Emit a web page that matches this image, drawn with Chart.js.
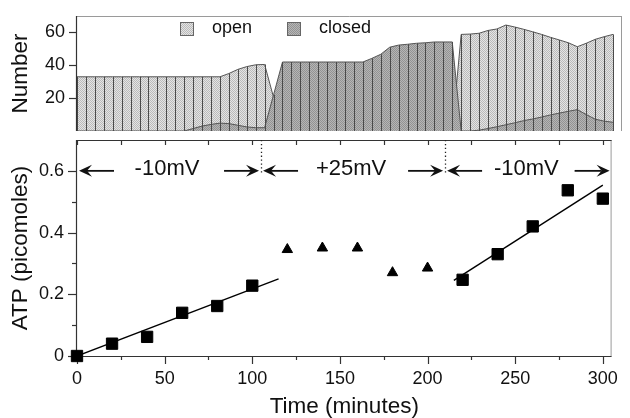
<!DOCTYPE html>
<html>
<head>
<meta charset="utf-8">
<script src="https://cdn.jsdelivr.net/npm/chart.js@4.4.1/dist/chart.umd.min.js"></script>
<style>
  body { margin: 0; background: #fff; }
  #wrap { position: relative; width: 630px; height: 418px; }
  canvas { position: absolute; left: 0; }
  #chart-number { top: 0; }
  #chart-atp { top: 131px; }
</style>
</head>
<body>
<div id="wrap">
  <canvas id="chart-number" width="630" height="131"></canvas>
  <canvas id="chart-atp" width="630" height="287"></canvas>
</div>
<script>
// ---- top panel: number of open / closed channels, sampled every 5 min
const sampleTimes = [
  0, 5, 10, 15, 20, 25, 30, 35, 40, 45, 50, 55, 60, 65, 70, 75, 80, 85, 90, 95,
  100, 105, 110, 115, 120, 125, 130, 135, 140, 145, 150, 155, 160, 165, 170, 175, 180, 185, 190, 195,
  200, 205, 210, 215, 220, 225, 230, 235, 240, 245, 250, 255, 260, 265, 270, 275, 280, 285, 290, 295, 300
];
const openCount = [
  33, 33, 33, 33, 33, 33, 33, 33, 33, 33, 33, 33, 33, 33, 33, 33, 33, 35, 37.5, 39.2,
  40.3, 40.5, 20.5, 0, 0, 0, 0, 0, 0, 0, 0, 0, 0, 0, 0, 0, 0, 0, 0, 0,
  0, 0, 0, 58.8, 59, 59.5, 61.2, 62.1, 64.5, 63.3, 61.9, 60.4, 58.8, 57, 55.4, 53.7, 51.3, 53.4, 55.8, 57.4, 58.8
];
const closedCount = [
  0, 0, 0, 0, 0, 0, 0, 0, 0, 0, 0, 0, 0, 1.5, 3, 4, 4.8, 4.5, 3.5, 2.5,
  2, 2, 22, 42, 42, 42, 42, 42, 42, 42, 42, 42, 42, 44.2, 46.7, 51, 52.3, 52.8, 53.4, 53.7,
  54.2, 54.2, 54.2, 0, 0, 0.5, 1.5, 2.6, 3.8, 5, 6.3, 7.3, 8.5, 9.8, 10.9, 12, 13, 10, 7.2, 6, 5.3
];
const numberTicks = [20, 40, 60];

// ---- bottom panel: ATP
const squareTimes = [0, 20, 40, 60, 80, 100, 220, 240, 260, 280, 300];
const squareAtp = [0, 0.04, 0.062, 0.14, 0.162, 0.228, 0.247, 0.33, 0.42, 0.537, 0.51];
const triangleTimes = [120, 140, 160, 180, 200];
const triangleAtp = [0.345, 0.35, 0.35, 0.27, 0.285];
const fit1Times = [0, 115];
const fit1Atp = [0, 0.25];
const fit2Times = [215, 300];
const fit2Atp = [0.245, 0.554];
const timeTicks = [0, 50, 100, 150, 200, 250, 300];
const timeMinorTicks = [25, 75, 125, 175, 225, 275];
const atpTicks = [0, 0.2, 0.4, 0.6];
const atpMinorTicks = [0.1, 0.3, 0.5];
const phaseStarts = [0, 105, 210];
const phaseLabels = ['-10mV', '+25mV', '-10mV'];
const phaseArrowLevel = 0.6;

const FONT = '"Liberation Sans", Arial, Helvetica, sans-serif';
const INK = '#111';
Chart.defaults.font.family = FONT;
Chart.defaults.color = INK;

const pts = (xs, ys) => xs.map((x, i) => ({ x, y: ys[i] }));

function stipple(ctx, light, dark) {
  const c = document.createElement('canvas');
  c.width = 2; c.height = 2;
  const g = c.getContext('2d');
  g.fillStyle = light; g.fillRect(0, 0, 2, 2);
  g.fillStyle = dark; g.fillRect(0, 0, 1, 1); g.fillRect(1, 1, 1, 1);
  return ctx.createPattern(c, 'repeat');
}

function seg(ctx, x1, y1, x2, y2) {
  ctx.beginPath(); ctx.moveTo(x1, y1); ctx.lineTo(x2, y2); ctx.stroke();
}

// ================= top chart =================
const topCtx = document.getElementById('chart-number').getContext('2d');

const numberDecor = {
  id: 'numberDecor',
  afterDatasetsDraw(chart) {
    const { ctx, chartArea: a, scales: { y } } = chart;
    const base = y.getPixelForValue(0);
    ctx.save();
    // drop lines at every sample
    ctx.strokeStyle = '#4a4a4a';
    ctx.lineWidth = 1;
    chart.data.datasets.forEach((ds, i) => {
      chart.getDatasetMeta(i).data.forEach((pt, j) => {
        if (!ds.data[j].y) return;
        const px = Math.round(pt.x) + 0.5;
        seg(ctx, px, pt.y, px, base);
      });
    });
    // frame
    ctx.strokeStyle = '#9a9a9a';
    seg(ctx, a.left, a.top + 0.5, a.right - 0.5, a.top + 0.5);
    seg(ctx, a.right - 0.5, a.top, a.right - 0.5, a.bottom);
    ctx.strokeStyle = '#333';
    ctx.lineWidth = 1.2;
    seg(ctx, a.left - 0.5, a.top, a.left - 0.5, a.bottom);
    numberTicks.forEach(v => {
      const py = Math.round(y.getPixelForValue(v)) + 0.5;
      seg(ctx, a.left - 8, py, a.left, py);
    });
    // legend inside the panel
    const items = [[180, 1], [287, 0]];
    ctx.font = '18px ' + FONT;
    items.forEach(([lx, idx]) => {
      const ds = chart.data.datasets[idx];
      ctx.fillStyle = ds.backgroundColor;
      ctx.fillRect(lx, 22, 14, 14);
      ctx.strokeStyle = '#666';
      ctx.lineWidth = 1;
      ctx.strokeRect(lx + 0.5, 22.5, 13, 13);
      ctx.fillStyle = INK;
      ctx.textBaseline = 'alphabetic';
      ctx.fillText(ds.label, lx + 32, 33);
    });
    ctx.restore();
  }
};

new Chart(topCtx, {
  type: 'line',
  plugins: [numberDecor],
  data: {
    datasets: [
      {
        label: 'closed',
        data: pts(sampleTimes, closedCount),
        order: 0,
        fill: 'origin',
        backgroundColor: stipple(topCtx, '#b6b6b6', '#939393'),
        borderColor: '#555',
        borderWidth: 1,
      },
      {
        label: 'open',
        data: pts(sampleTimes, openCount),
        order: 1,
        fill: 'origin',
        backgroundColor: stipple(topCtx, '#e4e4e4', '#bababa'),
        borderColor: '#555',
        borderWidth: 1,
      },
    ],
  },
  options: {
    responsive: false,
    animation: false,
    layout: { padding: { top: 16, right: 8, bottom: 0, left: 0 } },
    elements: { point: { radius: 0 }, line: { tension: 0 } },
    plugins: { legend: { display: false }, tooltip: { enabled: false } },
    scales: {
      x: { type: 'linear', display: false, min: 0, max: 305 },
      y: {
        min: 0,
        max: 70,
        grid: { display: false, drawTicks: false },
        border: { display: false },
        afterBuildTicks: (s) => { s.ticks = numberTicks.map(value => ({ value })); },
        afterFit: (s) => { s.width = 77; s.paddingTop = 0; s.paddingBottom = 0; },
        ticks: { padding: 12, font: { size: 18 }, color: INK },
        title: { display: true, text: 'Number', font: { size: 22.5 }, padding: { top: 7 }, color: INK },
      },
    },
  },
});

// ================= bottom chart =================
const atpCtx = document.getElementById('chart-atp').getContext('2d');

function arrow(ctx, tip, tail, y) {
  const dir = Math.sign(tip - tail);
  ctx.lineWidth = 1.8;
  seg(ctx, tail, y, tip - dir * 8, y);
  ctx.beginPath();
  ctx.moveTo(tip, y);
  ctx.lineTo(tip - dir * 13, y - 6);
  ctx.lineTo(tip - dir * 8, y);
  ctx.lineTo(tip - dir * 13, y + 6);
  ctx.closePath();
  ctx.fill();
}

const atpDecor = {
  id: 'atpDecor',
  beforeDatasetsDraw(chart) {
    const { ctx, chartArea: a, scales: { x, y } } = chart;
    ctx.save();
    ctx.strokeStyle = '#9a9a9a';
    ctx.lineWidth = 1;
    seg(ctx, a.right - 0.5, a.top, a.right - 0.5, a.bottom);
    ctx.strokeStyle = '#333';
    ctx.lineWidth = 1.2;
    seg(ctx, a.left - 0.5, a.top, a.left - 0.5, a.bottom + 0.5);
    seg(ctx, a.left - 0.5, a.bottom + 0.5, a.right, a.bottom + 0.5);
    seg(ctx, a.left - 0.5, a.top + 0.5, a.right, a.top + 0.5);
    timeTicks.forEach(v => {
      const px = Math.round(x.getPixelForValue(v)) + 0.5;
      seg(ctx, px, a.bottom, px, a.bottom + 8);
      seg(ctx, px, a.top, px, a.top + 5);
    });
    timeMinorTicks.forEach(v => {
      const px = Math.round(x.getPixelForValue(v)) + 0.5;
      seg(ctx, px, a.bottom, px, a.bottom + 4);
      seg(ctx, px, a.top, px, a.top + 5);
    });
    atpTicks.forEach(v => {
      const py = Math.round(y.getPixelForValue(v)) + 0.5;
      seg(ctx, a.left - 9, py, a.left, py);
    });
    atpMinorTicks.forEach(v => {
      const py = Math.round(y.getPixelForValue(v)) + 0.5;
      seg(ctx, a.left - 5, py, a.left, py);
    });
    ctx.restore();
  },
  afterDatasetsDraw(chart) {
    const { ctx, chartArea: a, scales: { x, y } } = chart;
    const py = y.getPixelForValue(phaseArrowLevel);
    ctx.save();
    // dotted dividers between phases
    ctx.strokeStyle = '#222';
    ctx.lineWidth = 1.3;
    ctx.setLineDash([1.3, 2.6]);
    phaseStarts.slice(1).forEach(t => {
      const px = Math.round(x.getPixelForValue(t)) + 0.5;
      seg(ctx, px, a.top, px, py + 4);
    });
    ctx.setLineDash([]);
    // arrows and voltage labels
    ctx.fillStyle = INK;
    ctx.strokeStyle = INK;
    ctx.font = '22px ' + FONT;
    ctx.textAlign = 'center';
    ctx.textBaseline = 'alphabetic';
    phaseStarts.forEach((t, i) => {
      const x0 = x.getPixelForValue(t);
      const x1 = i + 1 < phaseStarts.length ? x.getPixelForValue(phaseStarts[i + 1]) : a.right;
      arrow(ctx, x0 + 2, x0 + 37, py);
      arrow(ctx, x1 - 2, x1 - 37, py);
      ctx.fillText(phaseLabels[i], (x0 + x1) / 2 - 2, py + 4);
    });
    ctx.restore();
  }
};

new Chart(atpCtx, {
  type: 'scatter',
  plugins: [atpDecor],
  data: {
    datasets: [
      {
        data: pts(squareTimes, squareAtp),
        pointStyle: 'rect',
        pointRadius: 8,
        backgroundColor: '#000',
        borderColor: '#000',
        borderWidth: 1,
        clip: false,
      },
      {
        data: pts(triangleTimes, triangleAtp),
        pointStyle: 'triangle',
        pointRadius: 6,
        backgroundColor: '#000',
        borderColor: '#000',
        borderWidth: 1,
      },
      {
        data: pts(fit1Times, fit1Atp),
        showLine: true,
        pointRadius: 0,
        borderColor: '#000',
        borderWidth: 1.4,
      },
      {
        data: pts(fit2Times, fit2Atp),
        showLine: true,
        pointRadius: 0,
        borderColor: '#000',
        borderWidth: 1.4,
      },
    ],
  },
  options: {
    responsive: false,
    animation: false,
    layout: { padding: { top: 0, right: 8, bottom: 0, left: 0 } },
    plugins: { legend: { display: false }, tooltip: { enabled: false } },
    scales: {
      x: {
        type: 'linear',
        min: 0,
        max: 305,
        grid: { display: false, drawTicks: false },
        border: { display: false },
        afterBuildTicks: (s) => { s.ticks = timeTicks.map(value => ({ value })); },
        afterFit: (s) => { s.height = 62; },
        ticks: { padding: 12, font: { size: 18 }, color: INK, maxRotation: 0, autoSkip: false },
        title: { display: true, text: 'Time (minutes)', font: { size: 22.5, lineHeight: 1 }, padding: 0, color: INK },
      },
      y: {
        min: 0,
        max: 0.7,
        grid: { display: false, drawTicks: false },
        border: { display: false },
        afterBuildTicks: (s) => { s.ticks = atpTicks.map(value => ({ value })); },
        afterFit: (s) => { s.width = 77; s.paddingTop = 0; s.paddingBottom = 0; },
        ticks: { padding: 13, font: { size: 18 }, color: INK },
        title: { display: true, text: 'ATP (picomoles)', font: { size: 22.5 }, padding: { top: 7 }, color: INK },
      },
    },
  },
});
</script>
</body>
</html>
